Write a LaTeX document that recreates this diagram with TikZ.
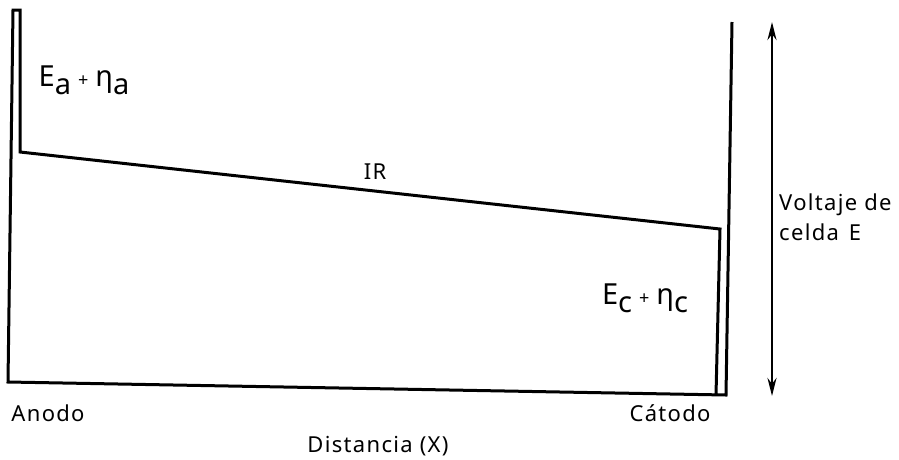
\documentclass[tikz,border=0pt]{standalone}
\usepackage{fontspec}
\setmainfont{Noto Sans}[LetterSpace=6]
\usetikzlibrary{arrows.meta}
\newcommand{\sbs}[1]{\raisebox{-0.5ex}{#1}}
\newcommand{\smplus}{\hspace{7pt}{\fontsize{18}{20}\selectfont+}\hspace{7pt}}
\begin{document}
\begin{tikzpicture}[x=1pt,y=-1pt,
  frame/.style={line width=3pt,line join=miter},
  lab/.style={font=\fontsize{22}{24}\selectfont,inner sep=0pt},
  biglab/.style={font=\fontsize{29}{32}\selectfont,inner sep=0pt}]
\useasboundingbox (0,0) rectangle (899,459);
% key points
\coordinate (rt) at (732,22);
\coordinate (rb) at (726,395);
\coordinate (lb) at (8,382);
\coordinate (lt) at (13,10);
\coordinate (it) at (20,10);
\coordinate (ik) at (20,152);
\coordinate (ck) at (720,229);
\coordinate (cb) at (716,395);
\draw[frame] (rt) -- (rb) -- (lb) -- (lt) -- (it) -- (ik) -- (ck) -- (cb);
% voltage arrow
\coordinate (at) at (772,22);
\coordinate (ab) at (772,396);
\draw[line width=2.6pt,{Stealth[length=18pt,width=9pt]}-{Stealth[length=18pt,width=9pt]}] (at) -- (ab);
% labels
\node[biglab] (ea) at (84,80) {E\sbs{a}\smplus η\sbs{a}};
\node[lab] (ir) at (375,172) {IR};
\node[biglab] (ec) at (645,298) {E\sbs{c}\smplus η\sbs{c}};
\node[lab,anchor=west] (v1) at (779,205) {Voltaje de};
\node[lab,anchor=west] (v2) at (779,232) {celda\hspace{10pt}E};
\node[lab] (an) at (48,413) {Anodo};
\node[lab] (ca) at (670,413) {Cátodo};
\node[lab] (di) at (378,446) {Distancia (X)};
\end{tikzpicture}
\end{document}
